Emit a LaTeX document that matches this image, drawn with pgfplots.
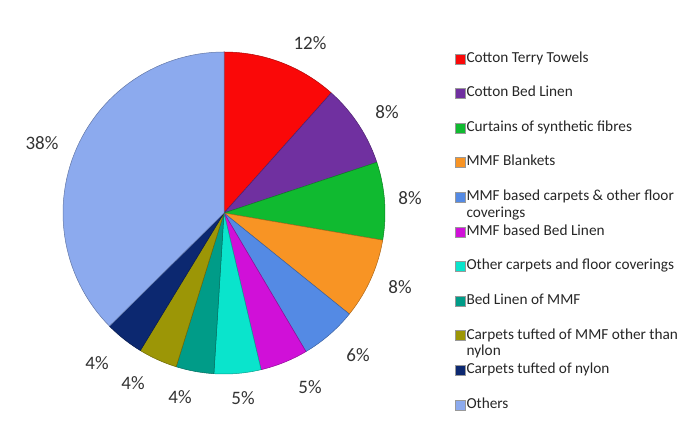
\documentclass[border=0pt]{standalone}
\usepackage{fontspec}
\setmainfont{Carlito}
\usepackage{pgfplots}
\pgfplotsset{compat=1.18}

\definecolor{cTerry}{RGB}{250,8,8}
\definecolor{cBed}{RGB}{112,48,160}
\definecolor{cCurt}{RGB}{16,186,48}
\definecolor{cBlank}{RGB}{248,148,36}
\definecolor{cMmfCarp}{RGB}{84,138,228}
\definecolor{cMmfBed}{RGB}{208,16,216}
\definecolor{cOthCarp}{RGB}{10,228,204}
\definecolor{cLinMmf}{RGB}{0,156,136}
\definecolor{cTufMmf}{RGB}{156,150,6}
\definecolor{cTufNyl}{RGB}{12,40,112}
\definecolor{cOthers}{RGB}{140,170,238}

% one wedge per call: colour, share in percent
\gdef\cum{0}
\newcommand{\slice}[2]{%
  \pgfmathsetmacro{\pa}{\cum}%
  \pgfmathsetmacro{\pb}{\cum+#2}%
  \xdef\cum{\pb}%
  \edef\doslice{\noexpand\addplot[fill=#1, draw=#1!70!black, line width=0.5pt,
    domain=\pa:\pb, samples=60]}%
  \doslice ({224+161*cos(90-3.6*x)}, {-213+161*sin(90-3.6*x)})
    -- (axis cs:224,-213) -- cycle;
}
\newcommand{\two}[1]{\parbox[t]{225pt}{\raggedright #1}}

\begin{document}
\begin{tikzpicture}
\begin{axis}[
  width=700pt, height=425pt, scale only axis,
  xmin=0, xmax=700, ymin=-425, ymax=0,
  hide axis, clip=false,
  legend image code/.code={%
    \draw[#1, draw=black!40, line width=0.3pt] (0pt,-5pt) rectangle (10pt,5pt);},
  legend cell align=left,
  legend style={
    at={(axis cs:455,-52)}, anchor=north west,
    draw=none, fill=none, inner sep=0pt,
    row sep=21.6pt, column sep=1pt,
    nodes={font=\fontsize{15.3}{16.5}\selectfont, text=black!85,
      inner sep=0pt, text height=10pt, text depth=3pt},
  },
]
\slice{cTerry}{11.6}
\slice{cBed}{8.3}
\slice{cCurt}{7.8}
\slice{cBlank}{8.1}
\slice{cMmfCarp}{5.7}
\slice{cMmfBed}{4.8}
\slice{cOthCarp}{4.7}
\slice{cLinMmf}{3.8}
\slice{cTufMmf}{3.9}
\slice{cTufNyl}{3.9}
\slice{cOthers}{37.4}

\legend{Cotton Terry Towels, Cotton Bed Linen, Curtains of synthetic fibres,
  MMF Blankets, {\two{MMF based carpets \& other floor\\coverings}},
  MMF based Bed Linen, Other carpets and floor coverings, Bed Linen of MMF,
  {\two{Carpets tufted of MMF other than\\nylon}}, Carpets tufted of nylon, Others}

% data labels as printed on the chart
\addplot[only marks, mark=*, mark size=0pt, mark options={draw=none, fill=none},
  forget plot,
  point meta=explicit symbolic,
  nodes near coords={\pgfplotspointmeta\%},
  every node near coord/.append style={anchor=center,
    font=\fontsize{19}{20}\selectfont, text=black!80}]
  table[meta=p] {
x y p
310 -43 12
387 -112 8
410 -198 8
400 -287 8
358 -355 6
310 -387 5
243 -398 5
180 -397 4
133 -383 4
97 -363 4
42 -143 38
};

\addplot[draw=none, forget plot] coordinates {(0,0) (700,-425)};
\end{axis}
\end{tikzpicture}
\end{document}
